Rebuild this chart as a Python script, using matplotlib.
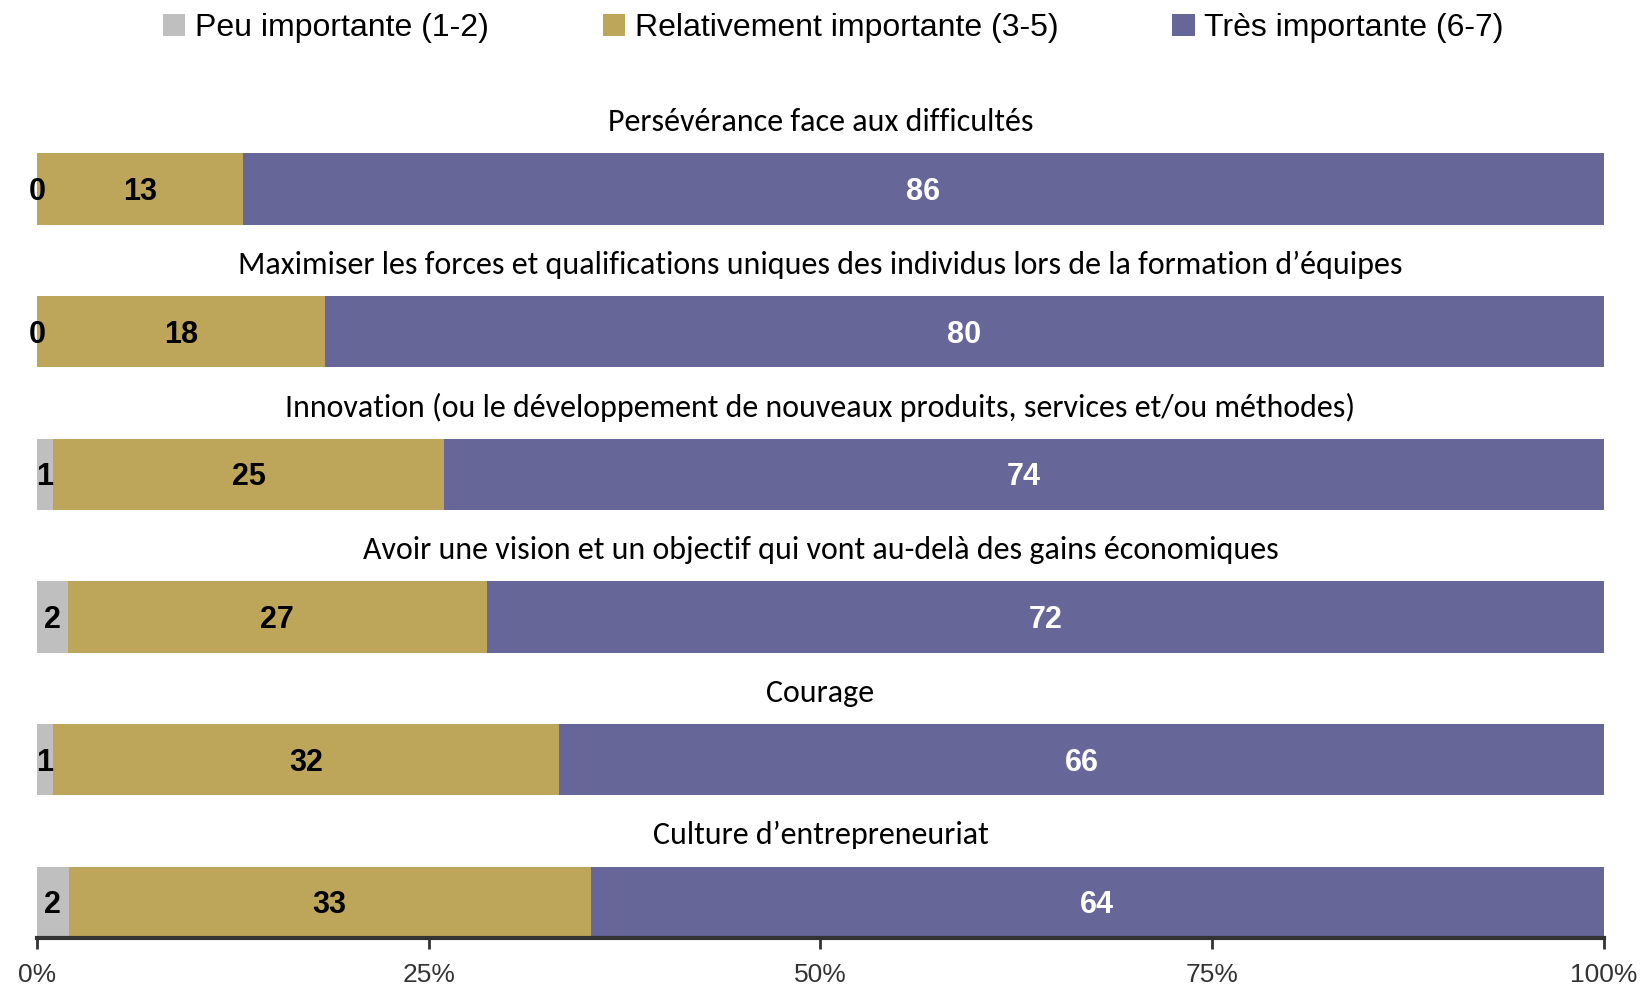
import matplotlib
matplotlib.use("Agg")
import matplotlib.pyplot as plt
import numpy as np

# ===== DATA =====
items = [
    "Persévérance face aux difficultés",
    "Maximiser les forces et qualifications uniques des individus lors de la formation d’équipes",
    "Innovation (ou le développement de nouveaux produits, services et/ou méthodes)",
    "Avoir une vision et un objectif qui vont au-delà des gains économiques",
    "Courage",
    "Culture d’entrepreneuriat",
]
series = ["Peu importante (1-2)", "Relativement importante (3-5)", "Très importante (6-7)"]
peu = [0, 0, 1, 2, 1, 2]
relativement = [13, 18, 25, 27, 32, 33]
tres = [86, 80, 74, 72, 66, 64]

colors = ["#BFBFBF", "#BDA65A", "#666699"]
label_colors = ["black", "black", "white"]

NARROW = ["Liberation Sans Narrow", "Liberation Sans", "DejaVu Sans"]
TITLE = ["Carlito", "Open Sans", "DejaVu Sans"]

# ===== PLOT =====
fig = plt.figure(figsize=(16.5, 9.86), dpi=100)
ax = fig.add_axes([0.0224, 0.0487, 0.9496, 0.868])

# each row is scaled to 100% (raw answers don't always sum to 100)
vals = np.array([peu, relativement, tres], dtype=float)
shares = vals / vals.sum(axis=0) * 100
y = np.arange(len(items))
h = 0.5

left = np.zeros(len(items))
handles = []
for k in range(3):
    b = ax.barh(y, shares[k], left=left, height=h, color=colors[k],
                edgecolor="none", label=series[k])
    handles.append(b)
    for i in range(len(items)):
        ax.text(left[i] + shares[k][i] / 2, y[i] + 0.02, f"{int(vals[k][i])}",
                ha="center", va="center", fontsize=22, fontweight="bold",
                color=label_colors[k], family=NARROW)
    left += shares[k]

for i, name in enumerate(items):
    ax.text(50, y[i] - 0.47, name, ha="center", va="center",
            fontsize=23, family=TITLE, color="black")

ax.set_xlim(0, 100)
ax.set_ylim(len(items) - 1 + h / 2, -0.75)
ax.set_yticks([])
ax.set_xticks([0, 25, 50, 75, 100])
ax.set_xticklabels(["0%", "25%", "50%", "75%", "100%"], family=NARROW,
                   fontsize=19, color="#333333")
ax.tick_params(axis="x", direction="out", length=8, width=2, color="#333333", pad=10)
for s in ["top", "left", "right"]:
    ax.spines[s].set_visible(False)
ax.spines["bottom"].set_linewidth(3)
ax.spines["bottom"].set_color("#333333")

fig.legend(handles=handles, labels=series, loc="upper center",
           bbox_to_anchor=(0.505, 1.016), ncol=3, frameon=False,
           prop={"family": NARROW, "size": 23}, handlelength=0.7,
           handleheight=0.7, handletextpad=0.3, columnspacing=3.57)

fig.savefig("out.png", dpi=100)
